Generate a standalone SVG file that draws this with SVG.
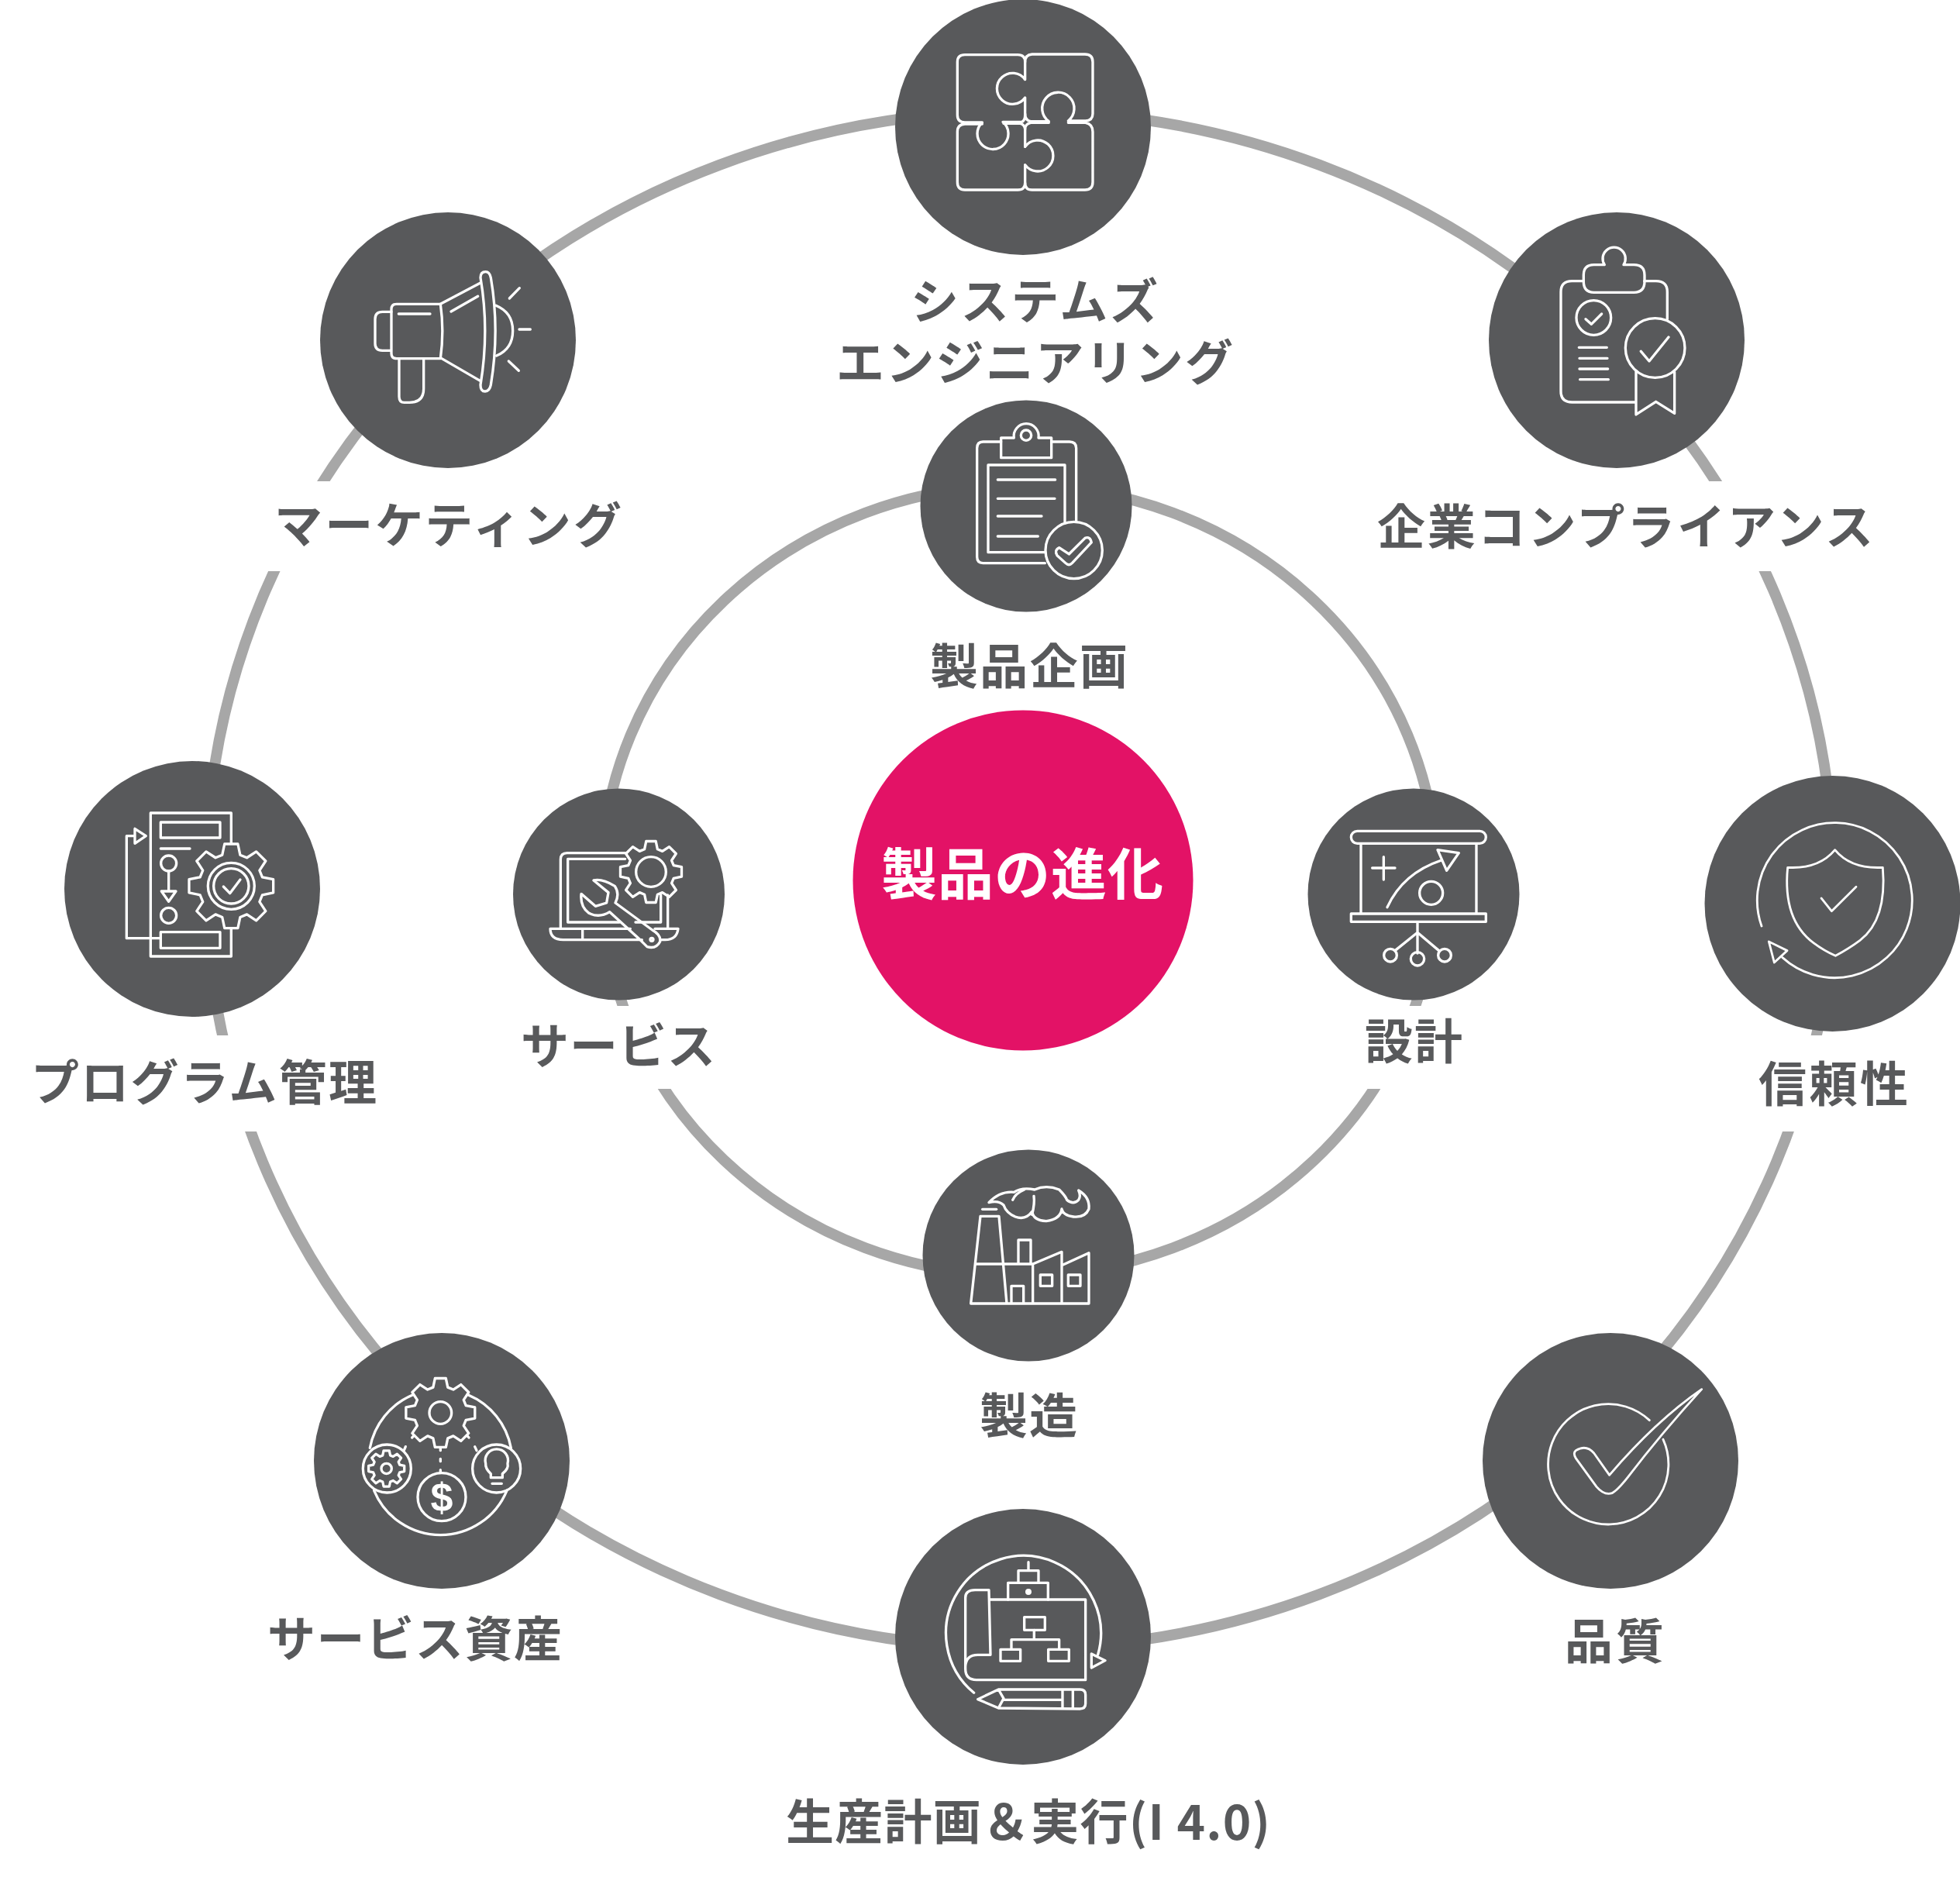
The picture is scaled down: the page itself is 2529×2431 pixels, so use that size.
<svg xmlns="http://www.w3.org/2000/svg" xmlns:xlink="http://www.w3.org/1999/xlink" width="2529" height="2431" viewBox="0 0 2529 2431">
<style>
.ring{fill:none;stroke:#a7a7a7;stroke-width:14}
.bg{fill:#58595b}
.i{fill:none;stroke:#fff;stroke-width:10;stroke-linecap:round;stroke-linejoin:round}
.t{stroke-width:8.500}
.lb{font-family:"Noto Sans CJK JP","Noto Sans",sans-serif;font-weight:700;font-size:62px;fill:#58595b}
</style>
<defs>
<path id="gear" d="M73,-21L98.8,-15.6L98.8,15.6L73,21L66.5,36.8L80.9,58.8L58.8,80.9L36.8,66.5L21,73L15.6,98.8L-15.6,98.8L-21,73L-36.8,66.5L-58.8,80.9L-80.9,58.8L-66.5,36.8L-73,21L-98.8,15.6L-98.8,-15.6L-73,-21L-66.5,-36.8L-80.9,-58.8L-58.8,-80.9L-36.8,-66.5L-21,-73L-15.6,-98.8L15.6,-98.8L21,-73L36.8,-66.5L58.8,-80.9L80.9,-58.8L66.5,-36.8Z"/>
<clipPath id="gaps"><path clip-rule="evenodd" d="M0,0H2529V2431H0ZM300,621H500V737H300ZM2150,621H2350V737H2150ZM230,1336H400V1460H230ZM2230,1336H2400V1460H2230ZM770,1298H900V1405H770ZM1730,1298H1860V1405H1730Z"/></clipPath>
</defs>
<rect width="2529" height="2431" fill="#fff"/>
<g id="connectors" clip-path="url(#gaps)">
<ellipse class="ring" cx="1315.500" cy="1135" rx="1050" ry="992"/>
<ellipse class="ring" cx="1315" cy="1136" rx="539" ry="510"/>
</g>
<g id="node-center">
<circle cx="1320" cy="1136" r="219.500" fill="#e31266"/>
<text x="1137" y="1154" textLength="364" style="font-family:'Noto Sans CJK JP','Noto Sans',sans-serif;font-weight:700;font-size:72px;fill:#fff">製品の進化</text>
</g>
<g id="node-systems">
<circle class="bg" cx="1320" cy="164" r="165"/>
<g class="i" transform="translate(1130,0) scale(.3333)">
<path d="M412,474H345Q316,474 316,445V240Q316,212 345,212H550Q578,212 578,240V308A60,60 0 1 0 578,378V445Q578,468 565,472H492A60,60 0 1 1 412,474Z"/>
<path d="M578,240Q578,212 605,210H810Q840,210 840,240V440Q840,466 812,468H745A62,62 0 1 0 670,470H600Q578,466 578,440"/>
<path d="M412,480H345Q316,482 316,510V705Q316,735 345,735H550Q578,735 578,708V640M578,568V500Q576,482 560,478H495"/>
<path d="M578,708Q578,735 605,735H810Q840,735 840,705V510Q840,480 812,475H745M670,475H600Q578,480 578,500M578,568A60,60 0 1 1 578,638"/>
</g>
<text class="lb" x="1175" y="412" textLength="319">システムズ</text>
<text class="lb" x="1079" y="491" textLength="512">エンジニアリング</text>
</g>
<g id="node-marketing">
<circle class="bg" cx="578" cy="439" r="165"/>
<g class="i" transform="translate(400,270) scale(.3333)">
<path d="M505,367H335Q315,367 315,387V558Q315,578 335,578H505Q520,470 505,367Z"/>
<path d="M315,397H280Q252,397 252,425V520Q252,547 280,547H312"/>
<path d="M345,580V725Q345,748 365,748H385Q440,748 440,695V580"/>
<path d="M343,405H465M505,367L660,285M510,578L660,665M546,396L650,337"/>
<path d="M660,265Q660,242 680,242Q695,242 700,265Q735,470 700,680Q695,705 678,705Q660,705 660,680Q695,470 660,265Z"/>
<path d="M720,373Q785,400 785,470Q785,540 722,567"/>
<path d="M772,345L811,305M810,465H853M769,588L808,625"/>
</g>
<text class="lb" x="354" y="701" textLength="448">マーケティング</text>
</g>
<g id="node-compliance">
<circle class="bg" cx="2086" cy="439" r="165"/>
<g class="i" transform="translate(1910,270) scale(.3333)">
<path d="M400,278H355Q312,278 312,320V705Q312,747 355,747H600M635,278H680Q724,278 724,320V425"/>
<path d="M481,215H440Q400,215 400,255V280Q400,322 440,322H595Q636,322 636,280V255Q636,215 595,215H555A44,44 0 1 0 481,215Z"/>
<circle cx="439" cy="420" r="67"/>
<path d="M408,425L430,445L470,405M382,535H490M384,577H492M384,618H494M386,659H496"/>
<circle cx="677" cy="537" r="115"/>
<path d="M622,550L654,588L729,495M603,625V795L680,745L752,790V630"/>
</g>
<text class="lb" x="1777" y="703" textLength="640">企業コンプライアンス</text>
</g>
<g id="node-program">
<circle class="bg" cx="248" cy="1147" r="165"/>
<g class="i" transform="translate(80,980) scale(.3333)">
<path d="M655,325V207H343V762H655V655"/>
<rect x="382" y="243" width="230" height="60"/>
<rect x="382" y="668" width="230" height="62"/>
<path d="M382,345H495M413,432V510M385,510H441L413,550ZM382,692H250V296H282M282,268V325L325,296Z"/>
<circle cx="413" cy="402" r="30"/>
<circle cx="413" cy="604" r="30"/>
<use xlink:href="#gear" href="#gear" transform="translate(655,490) scale(1.65)" style="stroke-width:6"/>
<circle cx="655" cy="490" r="90"/>
<circle cx="655" cy="490" r="68"/>
<path d="M625,492L650,518L690,465"/>
</g>
<text class="lb" x="40" y="1420" textLength="446">プログラム管理</text>
</g>
<g id="node-reliability">
<circle class="bg" cx="2364.500" cy="1166" r="165"/>
<g class="i t" transform="translate(2200,1000) scale(.3333)">
<path d="M219,585A300,300 0 1 1 300,707M247,645L318,680L268,726Z"/>
<path d="M503,290Q440,365 320,358Q300,560 420,650Q460,680 505,700Q560,670 600,640Q705,560 688,358Q565,365 503,290Z"/>
<path d="M450,477L490,527L585,433"/>
</g>
<text class="lb" x="2269" y="1422" textLength="193">信頼性</text>
</g>
<g id="node-service-assets">
<circle class="bg" cx="570" cy="1885" r="165"/>
<g class="i" transform="translate(400,1720) scale(.3333)">
<use xlink:href="#gear" href="#gear" transform="translate(505,309) scale(1.35)" style="stroke-width:7.400"/>
<circle cx="505" cy="309" r="43"/>
<path d="M397,240A278,278 0 0 0 232,445M248,610A278,278 0 0 0 762,610M778,445A278,278 0 0 0 613,240"/>
<path d="M395,405L402,398M370,440L365,452M615,405L608,397M638,440L645,455M505,448V455M505,487V497M505,530V540"/>
<circle cx="298" cy="525" r="93"/>
<use xlink:href="#gear" href="#gear" transform="translate(296,525) scale(.7)" style="stroke-width:14"/>
<circle cx="296" cy="525" r="20"/>
<circle cx="510" cy="635" r="93"/>
<circle cx="722" cy="525" r="93"/>
<path d="M700,560H745V545Q770,525 765,505A44,44 0 1 0 680,505Q678,525 700,545ZM705,583H742"/>
</g>
<text x="570" y="1950" text-anchor="middle" style="font-family:'Liberation Sans',sans-serif;font-weight:700;font-size:52px;fill:#fff">$</text>
<text class="lb" x="345" y="2138" textLength="380">サービス資産</text>
</g>
<g id="node-production">
<circle class="bg" cx="1320" cy="2112" r="165"/>
<g class="i" transform="translate(1150,1950) scale(.3333)">
<path d="M320,703A300,300 0 1 1 800,555M775,552V606L828,578Z"/>
<path d="M380,342H752V653H330Q287,653 287,610V335Q287,305 325,305H378L384,556H335Q290,556 287,600"/>
<path d="M452,342V277H607V342M492,277V230H570V277M531,230V197"/>
<circle cx="531" cy="312" r="7" fill="#fff"/>
<rect x="515" y="410" width="80" height="50"/>
<path d="M553,460V497M465,535V497H650V535"/>
<rect x="423" y="535" width="77" height="45"/>
<rect x="608" y="535" width="80" height="45"/>
<path d="M335,728L415,690H730Q752,690 752,710V745Q752,765 730,765L415,762ZM415,690L435,725L415,762M435,730H660M663,693V762M703,693V762"/>
</g>
<text class="lb" x="1014" y="2374" textLength="625">生産計画＆実行(I 4.0)</text>
</g>
<g id="node-quality">
<circle class="bg" cx="2078" cy="1885" r="165"/>
<g class="i t" transform="translate(1910,1720) scale(.3333)">
<path d="M655,338A233,233 0 1 0 708,412"/>
<path d="M857,218Q680,340 500,550L440,465Q410,430 370,455Q358,465 370,485L450,595Q480,630 510,620Q530,610 570,560Q700,390 857,218Z"/>
</g>
<text class="lb" x="2019" y="2141" textLength="128">品質</text>
</g>
<g id="node-planning">
<circle class="bg" cx="1324" cy="653" r="136.500"/>
<g class="i" transform="translate(1180,510) scale(.3333)">
<path d="M335,180H265Q242,180 242,205V625Q242,650 265,650H505M532,180H600Q626,180 626,205V490"/>
<path d="M335,180V242H530V165H480A48,48 0 1 0 385,165H335Z"/>
<circle cx="432" cy="155" r="20"/>
<path d="M505,608H285V270H582V495M322,327H545M322,400H543M322,468H492M322,546H478"/>
<circle cx="617" cy="600" r="110"/>
<path d="M560,590L598,615L660,553Q680,545 685,570L610,650Q598,662 585,650L552,620Q540,600 560,590Z"/>
</g>
<text class="lb" x="1200" y="883" textLength="255">製品企画</text>
</g>
<g id="node-service">
<circle class="bg" cx="798.500" cy="1154" r="136.500"/>
<g class="i" transform="translate(660,1010) scale(.3333)">
<path d="M445,272H215Q190,272 190,297V560M440,295H218V540H418M578,540V435M605,435V565M480,540H578"/>
<path d="M150,565H460M555,565H645Q640,610 590,608H575M150,565Q150,608 200,608H505M275,570V605"/>
<use xlink:href="#gear" href="#gear" transform="translate(540,345) scale(1.2)" style="stroke-width:8.300"/>
<circle cx="540" cy="345" r="58"/>
<path d="M318,378Q350,370 400,400Q420,430 402,465L545,570Q580,590 575,615Q560,645 525,635L500,610L380,500Q340,525 300,505Q265,480 270,430L325,478L368,465L375,425Z"/>
<circle cx="543" cy="607" r="6"/>
</g>
<text class="lb" x="672" y="1373" textLength="251">サービス</text>
</g>
<g id="node-design">
<circle class="bg" cx="1824" cy="1154" r="136.500"/>
<g class="i" transform="translate(1680,1010) scale(.3333)">
<rect x="190" y="187" width="522" height="48" rx="24"/>
<path d="M228,237V505M675,237V505"/>
<rect x="190" y="507" width="522" height="31"/>
<path d="M272,330H360M316,287V375M330,482Q390,350 540,300M525,260L607,272L560,340Z"/>
<circle cx="500" cy="427" r="45"/>
<path d="M447,540V660M447,580L360,650M447,580L530,650"/>
<circle cx="342" cy="668" r="25"/>
<circle cx="447" cy="682" r="26"/>
<circle cx="552" cy="668" r="25"/>
</g>
<text class="lb" x="1761" y="1367" textLength="126">設計</text>
</g>
<g id="node-manufacturing">
<circle class="bg" cx="1327" cy="1620" r="136.500"/>
<g class="i" transform="translate(1190,1480) scale(.3333)">
<path d="M188,606H645V410L540,458V406L428,453H210M188,606L225,268H297L327,606M428,453V606M540,458V606M372,450V360H420V450M345,606V538H392V606"/>
<rect x="457" y="495" width="46" height="43"/>
<rect x="565" y="495" width="47" height="43"/>
<path d="M233,241H287"/>
<path d="M258,215Q300,170 355,175Q385,155 435,165Q480,145 530,165Q555,190 560,205Q585,225 605,205Q615,190 605,168Q650,195 645,240Q630,275 585,270Q545,265 540,240Q535,280 480,287Q430,285 425,250Q400,285 360,270Q325,255 315,225Q295,205 258,215Z"/>
<path d="M350,205Q360,180 395,165M432,190Q436,220 425,262"/>
</g>
<text class="lb" x="1264" y="1850" textLength="126">製造</text>
</g>
</svg>
